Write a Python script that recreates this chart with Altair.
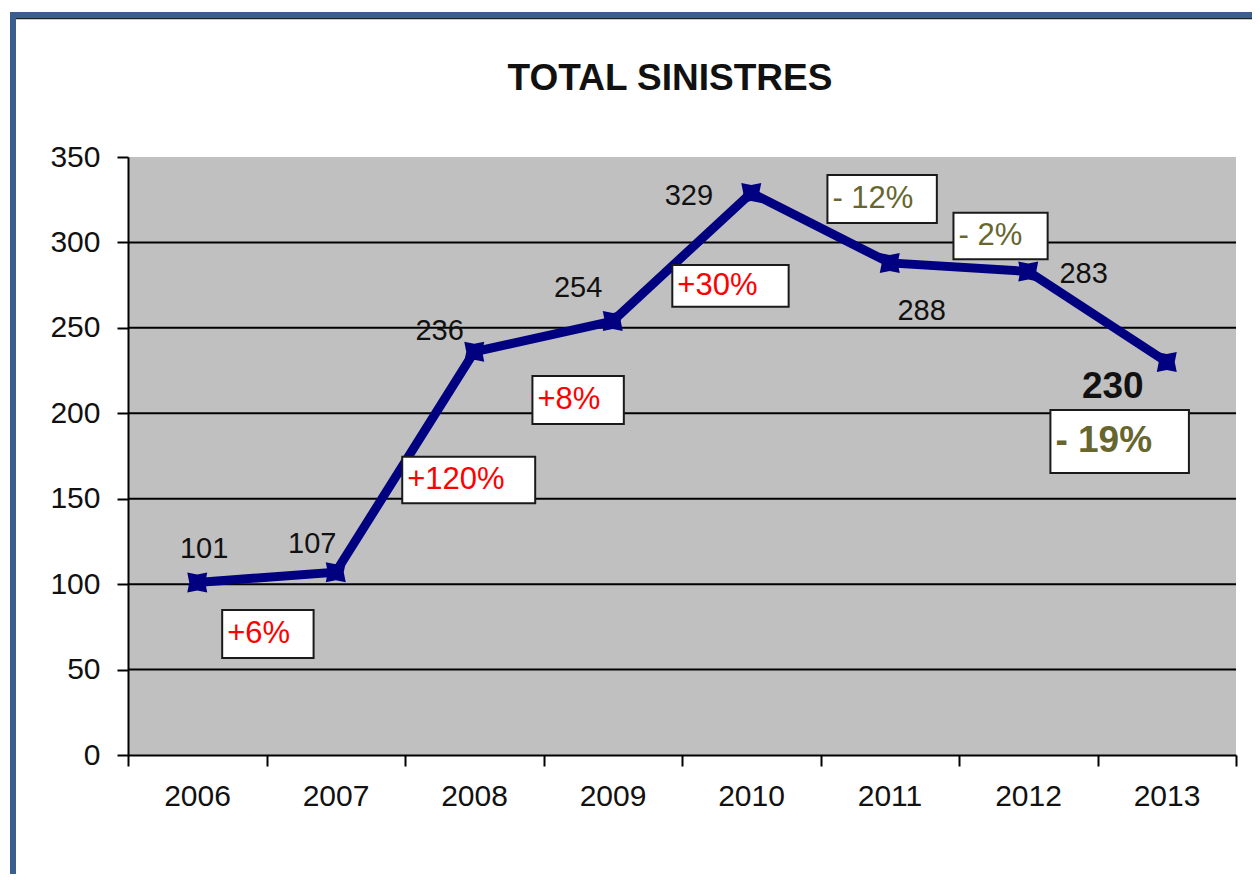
import altair as alt
import pandas as pd

# ---- data ----
years = [2006, 2007, 2008, 2009, 2010, 2011, 2012, 2013]
totals = [101, 107, 236, 254, 329, 288, 283, 230]
y_ticks = [0, 50, 100, 150, 200, 250, 300, 350]
grid_values = [50, 100, 150, 200, 250, 300]
title_text = "TOTAL SINISTRES"

# value labels (anchor positions in data units)
val_text = ["101", "107", "236", "254", "329", "288", "283", "230"]
val_x = [2006.05, 2006.83, 2007.75, 2008.75, 2009.55, 2011.23, 2012.40, 2012.61]
val_y = [120.6, 123.5, 247.9, 273.3, 327.2, 259.6, 281.5, 215.1]
val_bold = [False, False, False, False, False, False, False, True]

# year-on-year change boxes (extents in data units)
pct_text = ["+6%", "+120%", "+8%", "+30%", "- 12%", "- 2%", "- 19%"]
pct_x0 = [2006.18, 2007.48, 2008.42, 2009.43, 2010.55, 2011.46, 2012.16]
pct_x1 = [2006.84, 2008.44, 2009.08, 2010.27, 2011.34, 2012.14, 2013.16]
pct_top = [84.9, 174.6, 221.8, 286.8, 339.5, 317.4, 201.9]
pct_bot = [56.8, 147.3, 193.7, 262.4, 311.4, 290.1, 165.1]
pct_kind = ["up", "up", "up", "up", "down", "down", "down"]
pct_bold = [False, False, False, False, False, False, True]

FONT = "Liberation Sans"
NAVY = "#000080"
RED = "#ff0000"
OLIVE = "#66662e"

main = pd.DataFrame({"year": years, "total": totals})
vals = pd.DataFrame({"t": val_text, "x": val_x, "y": val_y, "bold": val_bold})
pcts = pd.DataFrame({"t": pct_text, "x0": pct_x0, "x1": pct_x1, "top": pct_top,
                     "bot": pct_bot, "kind": pct_kind, "bold": pct_bold})
grid = pd.DataFrame({"v": grid_values})
one = pd.DataFrame({"t": [title_text]})

x_ticks = [y - 0.5 for y in years] + [years[-1] + 0.5]
xscale = alt.Scale(domain=[years[0] - 0.5, years[-1] + 0.5], nice=False, zero=False)
yscale = alt.Scale(domain=[0, 350], nice=False)

x_axis = alt.Axis(values=x_ticks, title=None,
                  labelExpr=f"datum.value < {years[-1]} ? format(datum.value + 0.5, 'd') : ''",
                  labelOffset=69, labelOverlap=False, labelFlush=False, labelBound=False,
                  labelFont=FONT, labelFontSize=30, labelColor="#111111", labelPadding=15,
                  tickSize=11, tickWidth=2, tickColor="black",
                  domainColor="black", domainWidth=2, grid=False)
y_axis = alt.Axis(values=y_ticks, title=None, grid=False,
                  labelFont=FONT, labelFontSize=30, labelColor="#111111", labelPadding=17,
                  tickSize=11, tickWidth=2, tickColor="black",
                  domainColor="black", domainWidth=2)

gridlines = alt.Chart(grid).mark_rule(color="black", strokeWidth=2).encode(
    y=alt.Y("v:Q", scale=yscale, axis=y_axis)
)

line = alt.Chart(main).mark_line(color=NAVY, strokeWidth=9).encode(
    x=alt.X("year:Q", scale=xscale, axis=x_axis),
    y=alt.Y("total:Q", scale=yscale, axis=y_axis),
)

star = "M-1,-1L0,-0.8L1,-1L0.8,0L1,1L0,0.8L-1,1L-0.8,0Z"
points = alt.Chart(main).mark_point(shape=star, filled=True, size=400, color=NAVY, opacity=1).encode(
    x=alt.X("year:Q", scale=xscale),
    y=alt.Y("total:Q", scale=yscale),
)

boxes = alt.Chart(pcts).mark_rect(fill="white", stroke="#1a1a1a", strokeWidth=2).encode(
    x=alt.X("x0:Q", scale=xscale), x2="x1:Q",
    y=alt.Y("top:Q", scale=yscale), y2="bot:Q",
)

color_scale = alt.Scale(domain=["up", "down"], range=[RED, OLIVE])

pct_reg = alt.Chart(pcts).transform_filter("!datum.bold").transform_calculate(
    ym="(datum.top + datum.bot) / 2"
).mark_text(align="left", baseline="middle", dx=5, font=FONT, fontSize=31).encode(
    x=alt.X("x0:Q", scale=xscale),
    y=alt.Y("ym:Q", scale=yscale),
    text="t:N",
    color=alt.Color("kind:N", scale=color_scale, legend=None),
)

pct_bold_l = alt.Chart(pcts).transform_filter("datum.bold").transform_calculate(
    ym="(datum.top + datum.bot) / 2"
).mark_text(align="left", baseline="middle", dx=5, font=FONT, fontSize=37, fontWeight="bold").encode(
    x=alt.X("x0:Q", scale=xscale),
    y=alt.Y("ym:Q", scale=yscale),
    text="t:N",
    color=alt.Color("kind:N", scale=color_scale, legend=None),
)

val_reg = alt.Chart(vals).transform_filter("!datum.bold").mark_text(
    align="center", baseline="middle", font=FONT, fontSize=29, color="#111111"
).encode(
    x=alt.X("x:Q", scale=xscale),
    y=alt.Y("y:Q", scale=yscale),
    text="t:N",
)

val_bold_l = alt.Chart(vals).transform_filter("datum.bold").mark_text(
    align="center", baseline="middle", font=FONT, fontSize=37, fontWeight="bold", color="#111111"
).encode(
    x=alt.X("x:Q", scale=xscale),
    y=alt.Y("y:Q", scale=yscale),
    text="t:N",
)

title = alt.Chart(one).mark_text(
    align="center", baseline="alphabetic", font=FONT, fontSize=37, fontWeight="bold", color="#111111"
).encode(text="t:N", x=alt.value(542), y=alt.value(-67))

# frame decoration (blue left / top border)
frame_left = alt.Chart(one).mark_rule(color="#3b5e8c", strokeWidth=6).encode(
    x=alt.value(-115), y=alt.value(-145), y2=alt.value(740)
)
frame_top = alt.Chart(one).mark_rule(color="#3b5e8c", strokeWidth=6).encode(
    x=alt.value(-118), x2=alt.value(1140), y=alt.value(-142)
)
frame_top_inner = alt.Chart(one).mark_rule(color="#222222", strokeWidth=1.5).encode(
    x=alt.value(-112), x2=alt.value(1140), y=alt.value(-138.5)
)

chart = alt.layer(
    gridlines, line, points, boxes, pct_reg, pct_bold_l, val_reg, val_bold_l,
    title, frame_top_inner, frame_left, frame_top
).properties(
    width=1108, height=598,
    autosize=alt.AutoSizeParams(type="none"),
    padding={"left": 120, "top": 149, "right": 16, "bottom": 119},
    background="white",
).configure_view(stroke=None, fill="#c0c0c0")

chart.save("out.html", embed_options={"renderer": "svg", "actions": False})
